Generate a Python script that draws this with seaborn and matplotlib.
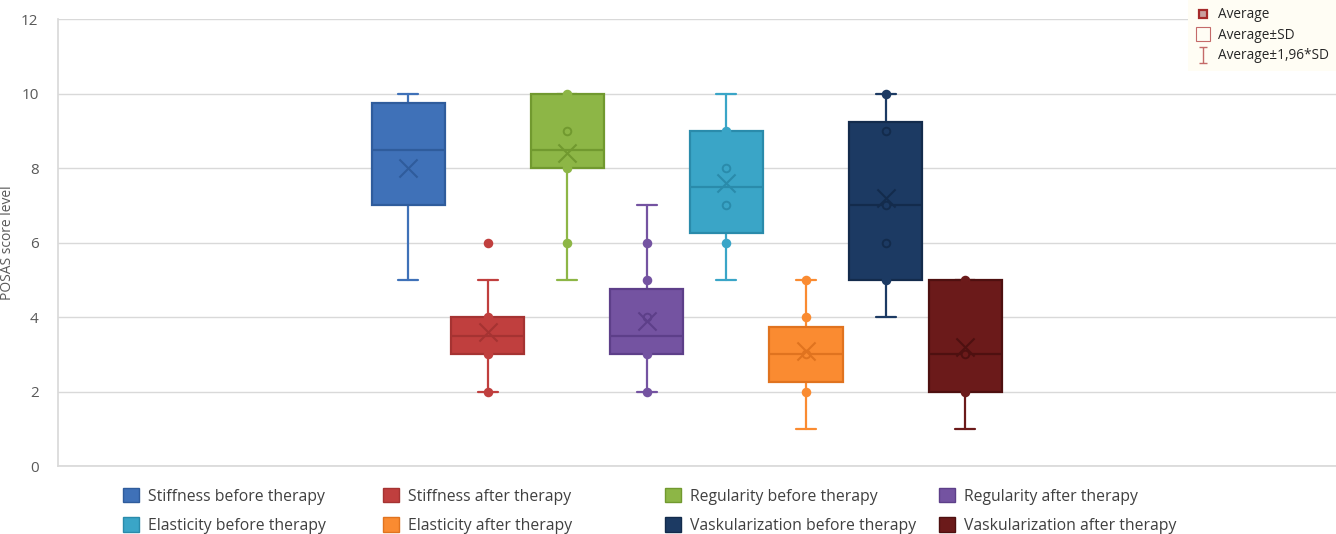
import numpy as np
import pandas as pd
import matplotlib
matplotlib.use("Agg")
import matplotlib.pyplot as plt
import seaborn as sns
from matplotlib.patches import Patch
from matplotlib.lines import Line2D
from matplotlib.path import Path

# box statistics (POSAS score level)
series = ["Stiffness before therapy", "Stiffness after therapy",
          "Regularity before therapy", "Regularity after therapy",
          "Elasticity before therapy", "Elasticity after therapy",
          "Vaskularization before therapy", "Vaskularization after therapy"]
whisker_low = [5, 2, 5, 2, 5, 1, 4, 1]
q1 = [7, 3, 8, 3, 6.25, 2.25, 5, 2]
median = [8.5, 3.5, 8.5, 3.5, 7.5, 3, 7, 3]
q3 = [9.75, 4, 10, 4.75, 9, 3.75, 9.25, 5]
whisker_high = [10, 5, 10, 7, 10, 5, 10, 5]
means = [8.0, 3.6, 8.4, 3.9, 7.6, 3.1, 7.2, 3.2]
inner_points = [[], [2, 3, 4], [6, 8, 9, 10], [2, 3, 4, 5, 6],
                [6, 7, 8, 9], [2, 3, 4, 5], [5, 6, 7, 9, 10], [2, 3, 5]]
outliers = [[], [6], [], [], [], [], [], []]

fills = ["#3F71B8", "#C03F3E", "#8DB646", "#7453A1",
         "#3AA5C7", "#FA8B31", "#1C3A63", "#6B1A1A"]
edges = ["#2F5C9C", "#A53332", "#71992F", "#5D3F89",
         "#2A8BAB", "#E0731F", "#132B4C", "#4E1010"]

sns.set_theme(style="white")
plt.rcParams["font.family"] = ["Open Sans", "DejaVu Sans"]

fig, ax = plt.subplots(figsize=(13.36, 5.34), dpi=100)
fig.subplots_adjust(left=0.0434, right=1.0, top=0.964, bottom=0.127)

positions = np.arange(len(series))
stats = []
for i, name in enumerate(series):
    stats.append({"label": name, "whislo": whisker_low[i], "q1": q1[i],
                  "med": median[i], "q3": q3[i], "whishi": whisker_high[i],
                  "mean": means[i], "fliers": []})

bp = ax.bxp(stats, positions=positions, widths=0.92, patch_artist=True,
            showfliers=False, showmeans=False, manage_ticks=False,
            capwidths=0.25)
for i in range(len(series)):
    bp["boxes"][i].set(facecolor=fills[i], edgecolor=edges[i], linewidth=1.6, zorder=2)
    bp["medians"][i].set(color=edges[i], linewidth=1.6, zorder=3)
    for w in bp["whiskers"][2 * i:2 * i + 2]:
        w.set(color=fills[i], linewidth=1.6, zorder=1)
    for c in bp["caps"][2 * i:2 * i + 2]:
        c.set(color=fills[i], linewidth=1.6, zorder=1)

# data points: hollow-looking inside the box, filled on the whiskers
pts = pd.DataFrame([(positions[i], v, i) for i in range(len(series))
                    for v in inner_points[i] + outliers[i]],
                   columns=["pos", "value", "idx"])
for _, r in pts.iterrows():
    i = int(r["idx"])
    v = r["value"]
    inside = q1[i] < v < q3[i]
    ax.scatter(r["pos"], v, s=30, zorder=4, facecolor=fills[i],
               edgecolor=edges[i] if inside else fills[i], linewidth=1.4)

for i in range(len(series)):
    ax.scatter(positions[i], means[i], marker="x", s=170, color=edges[i],
               linewidth=1.5, zorder=5)

ax.set_xlim(-4.40, 11.66)
ax.set_ylim(0, 12)
ax.set_yticks(range(0, 13, 2))
ax.set_xticks([])
ax.yaxis.grid(True, color="#D9D9D9", linewidth=1)
ax.set_axisbelow(True)
for s in ["top", "right"]:
    ax.spines[s].set_visible(False)
ax.spines["left"].set_color("#D9D9D9")
ax.spines["bottom"].set_color("#D9D9D9")
ax.tick_params(axis="y", length=0, labelsize=11, labelcolor="#595959", pad=14)
ax.set_ylabel("POSAS score level", fontsize=10, color="#595959", labelpad=4)

# bottom legend: four columns of two entries
handles = [Patch(facecolor=fills[i], edgecolor=edges[i], label=series[i])
           for i in range(len(series))]
col_x = [112, 372, 654, 928]
for c in range(4):
    idx = [c, c + 4]
    fig.legend([handles[k] for k in idx], [series[k] for k in idx],
               loc="lower left", bbox_to_anchor=(col_x[c] / 1336, -0.02),
               ncol=1, frameon=False, fontsize=11.3, handlelength=1.05,
               handleheight=1.05, handletextpad=0.55, labelspacing=0.8,
               borderaxespad=0.3, labelcolor="#404040")

# top-right key
ibar = Path([(-0.5, 1), (0.5, 1), (0, 1), (0, -1), (-0.5, -1), (0.5, -1)],
            [Path.MOVETO, Path.LINETO, Path.MOVETO, Path.LINETO, Path.MOVETO, Path.LINETO])
key = [Line2D([], [], marker="s", linestyle="none", markersize=5.5,
              markerfacecolor="#C9A09F", markeredgecolor="#A52A2A", markeredgewidth=1.6),
       Line2D([], [], marker="s", linestyle="none", markersize=10,
              markerfacecolor="none", markeredgecolor="#C46A69", markeredgewidth=0.8),
       Line2D([], [], marker=ibar, linestyle="none", markersize=11,
              markeredgecolor="#C46A69", markeredgewidth=1.0)]
fig.legend(key, ["Average", "Average±SD", "Average±1,96*SD"],
           loc="upper right", bbox_to_anchor=(1.0, 1.0), fontsize=9.8,
           frameon=True, facecolor="#FFFDF4", edgecolor="none", framealpha=1,
           handlelength=1.0, handletextpad=0.6, labelspacing=0.4,
           borderpad=0.55, borderaxespad=0.0, fancybox=False)

fig.savefig("out.png", dpi=100)
